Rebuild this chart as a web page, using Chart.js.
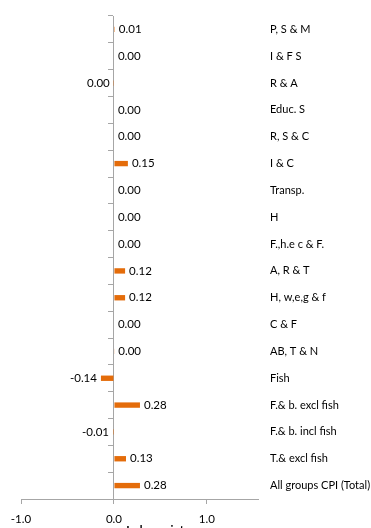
<!DOCTYPE html>
<html>
<head>
<meta charset="utf-8">
<script src="https://cdn.jsdelivr.net/npm/chart.js@4/dist/chart.umd.min.js"></script>
<style>
  html, body { margin: 0; padding: 0; background: #ffffff; overflow: hidden; }
  canvas { display: block; }
</style>
</head>
<body>
<canvas id="cpiChart" width="371" height="540"></canvas>
<script>
// CPI groups, listed top to bottom
const categories = [
  'P, S & M', 'I & F S', 'R & A', 'Educ. S', 'R, S & C', 'I & C', 'Transp.', 'H',
  'F.,h.e c & F.', 'A, R & T', 'H, w,e,g & f', 'C & F', 'AB, T & N', 'Fish',
  'F.& b. excl fish', 'F.& b. incl fish', 'T.& excl fish', 'All groups CPI (Total)'
];
// Contribution to the monthly change, index points
const contributions = [
  0.01, 0.00, -0.002, 0.00, 0.00, 0.15, 0.00, 0.00,
  0.00, 0.12, 0.12, 0.00, 0.004, -0.14,
  0.28, -0.01, 0.13, 0.28
];
const xTickValues = [-1, 0, 1];
const axisTitle = 'Index points';

const FONT = 'Lato, "Liberation Sans", sans-serif';
const AXIS_GREY = '#a6a6a6';
const BAR_ORANGE = '#e46c0a';

function fmt(v) {
  const s = v.toFixed(2);
  return s === '-0.00' ? '0.00' : s;
}

// Value labels beside the end of each bar
const barValueLabels = {
  id: 'barValueLabels',
  afterDatasetsDraw(chart) {
    const ctx = chart.ctx;
    const meta = chart.getDatasetMeta(0);
    ctx.save();
    ctx.font = '11.5px ' + FONT;
    ctx.fillStyle = '#000000';
    ctx.textBaseline = 'middle';
    meta.data.forEach((bar, i) => {
      const v = contributions[i];
      if (v < 0) {
        ctx.textAlign = 'right';
        ctx.fillText(fmt(v), bar.x - 4, bar.y);
      } else {
        ctx.textAlign = 'left';
        ctx.fillText(fmt(v), bar.x + 4, bar.y);
      }
    });
    ctx.restore();
  }
};

// Axis title under the value axis
const valueAxisTitle = {
  id: 'valueAxisTitle',
  afterDraw(chart) {
    const ctx = chart.ctx;
    const xs = chart.scales.x;
    ctx.save();
    ctx.font = 'bold 11.5px ' + FONT;
    ctx.fillStyle = '#000000';
    ctx.textAlign = 'center';
    ctx.textBaseline = 'middle';
    ctx.fillText(axisTitle, xs.getPixelForValue(0.47), 530);
    ctx.restore();
  }
};

new Chart(document.getElementById('cpiChart'), {
  type: 'bar',
  data: {
    labels: categories,
    datasets: [{
      data: contributions,
      backgroundColor: BAR_ORANGE,
      borderWidth: 0,
      barPercentage: 0.2,
      categoryPercentage: 1.0
    }]
  },
  options: {
    indexAxis: 'y',
    responsive: false,
    animation: false,
    layout: { padding: { top: 16, left: 21, right: 0, bottom: 0 } },
    plugins: {
      legend: { display: false },
      tooltip: { enabled: false },
      title: { display: false }
    },
    scales: {
      x: {
        type: 'linear',
        min: -1,
        max: 1.55,
        afterBuildTicks: (scale) => { scale.ticks = xTickValues.map(v => ({ value: v })); },
        grid: { display: true, drawOnChartArea: false, drawTicks: true, tickLength: 5, color: AXIS_GREY },
        border: { display: true, color: AXIS_GREY },
        ticks: {
          padding: 8,
          color: '#000000',
          font: { family: FONT, size: 11.5 },
          maxRotation: 0,
          callback: (v) => Number(v).toFixed(1)
        },
        afterFit: (scale) => { scale.height = 41; }
      },
      y: {
        type: 'category',
        position: { x: 0 },
        grid: { display: true, offset: true, drawOnChartArea: false, drawTicks: true, tickLength: 5, color: AXIS_GREY },
        border: { display: true, color: AXIS_GREY },
        ticks: { display: false }
      },
      y2: {
        type: 'category',
        axis: 'y',
        position: 'right',
        labels: categories,
        offset: true,
        grid: { display: false, drawTicks: false },
        border: { display: false },
        ticks: {
          padding: 12,
          color: '#000000',
          font: { family: FONT, size: 11 }
        },
        afterFit: (scale) => {
          scale.width = 113;
          scale.paddingTop = 0;
          scale.paddingBottom = 0;
        }
      }
    }
  },
  plugins: [barValueLabels, valueAxisTitle]
});
</script>
</body>
</html>
